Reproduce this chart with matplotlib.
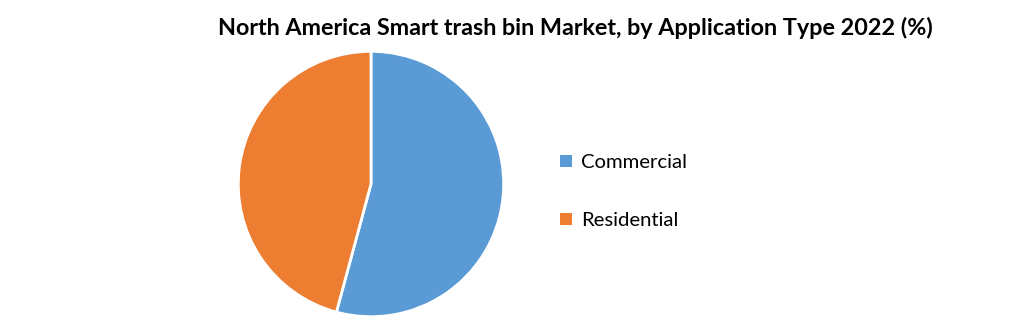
import matplotlib.pyplot as plt
from matplotlib.patches import Patch

labels = ['Commercial', 'Residential']
shares = [54.2, 45.8]
colors = ['#5B9BD5', '#ED7D31']

plt.rcParams['font.family'] = ['Lato', 'DejaVu Sans']

fig = plt.figure(figsize=(10.21, 3.21), dpi=100)
ax = fig.add_axes([0.2321, 0.0093, 0.2625, 0.8349])
ax.pie(shares, colors=colors, startangle=90, counterclock=False,
       wedgeprops=dict(edgecolor='white', linewidth=2))
ax.set_xlim(-1.01, 1.01)
ax.set_ylim(-1.01, 1.01)
ax.set_aspect('equal')

fig.text(0.5635, 0.913, 'North America Smart trash bin Market, by Application Type 2022 (%)',
         ha='center', va='center', fontsize=16.8, fontweight='bold')

handles = [Patch(facecolor=c, edgecolor='none') for c in colors]
fig.legend(handles, labels, loc='center left', bbox_to_anchor=(0.531, 0.403),
           frameon=False, fontsize=14.6, handlelength=0.55, handleheight=0.55,
           handletextpad=0.45, labelspacing=2.0)

fig.savefig('out.png', dpi=100)
